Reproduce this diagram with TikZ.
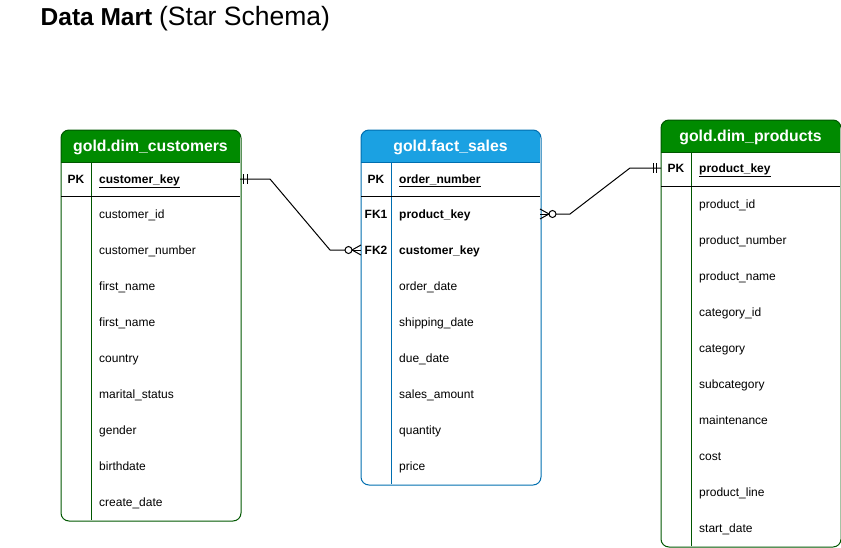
\documentclass[tikz,border=0pt]{standalone}
\usepackage{fontspec}
\setmainfont{Liberation Sans}
\usetikzlibrary{calc}
\definecolor{dmgreen}{HTML}{008A00}
\definecolor{dmgreenline}{HTML}{005700}
\definecolor{dmblue}{HTML}{1BA1E2}
\definecolor{dmblueline}{HTML}{006EAF}
\tikzset{
  tbl/.style={rounded corners=8pt, line width=1pt, minimum width=179pt, inner sep=0pt, anchor=north west},
  fld/.style={font=\fontsize{12}{14}\selectfont, anchor=base west, inner sep=0pt},
  kfld/.style={font=\fontsize{12}{14}\selectfont\bfseries, anchor=base west, inner sep=0pt},
  keylbl/.style={font=\fontsize{12}{14}\selectfont\bfseries, anchor=base, inner sep=0pt},
  hdr/.style={font=\fontsize{15.8}{18}\selectfont\bfseries, text=white, anchor=base, inner sep=0pt},
  rel/.style={line width=1pt, black},
}
\begin{document}
\begin{tikzpicture}[x=1pt,y=-1pt]
\useasboundingbox (0,0) rectangle (841,547);
% title
\node[anchor=base west, inner sep=0pt] (title) at (40.5,25)
  {\fontsize{24.5}{28}\selectfont\textbf{Data Mart} \fontsize{26.5}{30}\selectfont(Star Schema)};

% ---------- gold.dim_customers ----------
\node[tbl, minimum height=390pt] (cust) at (61,130) {};
\begin{scope}
  \clip[rounded corners=8pt] (cust.north west) rectangle (cust.south east);
  \fill[dmgreen] (61,130) rectangle (240,162);
  \fill[white] (61,162) rectangle (240,520);
\end{scope}
\draw[line width=1pt, dmgreenline, rounded corners=8pt] (cust.north west) rectangle (cust.south east);
\draw[line width=1pt, dmgreenline] (91,162) -- (91,520);
\draw[line width=1pt, dmgreenline] (61,162) -- (240,162);
\draw[line width=1pt, black] (61,196.5) -- (240,196.5);
\node[hdr] (cust-h) at (150.5,151.7) {gold.dim\_customers};
\node[keylbl] (cust-pkl) at (76,183.5) {PK};
\node[kfld] (cust-pk) at (99,183.5) {\underline{customer\_key}};
\foreach \t [count=\i] in {customer\_id, customer\_number, first\_name, first\_name, country, marital\_status, gender, birthdate, create\_date}
  \node[fld] (cust-\i) at (99,{218.5+36*(\i-1)}) {\t};

% ---------- gold.fact_sales ----------
\node[tbl, minimum height=354pt] (fact) at (361,130) {};
\begin{scope}
  \clip[rounded corners=8pt] (fact.north west) rectangle (fact.south east);
  \fill[dmblue] (361,130) rectangle (540,162);
  \fill[white] (361,162) rectangle (540,484);
\end{scope}
\draw[line width=1pt, dmblueline, rounded corners=8pt] (fact.north west) rectangle (fact.south east);
\draw[line width=1pt, dmblueline] (391,162) -- (391,484);
\draw[line width=1pt, dmblueline] (361,162) -- (540,162);
\draw[line width=1pt, black] (361,196.5) -- (540,196.5);
\node[hdr] (fact-h) at (450.5,151.7) {gold.fact\_sales};
\node[keylbl] (fact-pkl) at (376,183.5) {PK};
\node[kfld] (fact-pk) at (399,183.5) {\underline{order\_number}};
\node[keylbl] (fact-fk1l) at (376,218.5) {FK1};
\node[kfld] (fact-fk1) at (399,218.5) {product\_key};
\node[keylbl] (fact-fk2l) at (376,254.5) {FK2};
\node[kfld] (fact-fk2) at (399,254.5) {customer\_key};
\foreach \t [count=\i] in {order\_date, shipping\_date, due\_date, sales\_amount, quantity, price}
  \node[fld] (fact-\i) at (399,{290.5+36*(\i-1)}) {\t};

% ---------- gold.dim_products ----------
\node[tbl, minimum height=426pt] (prod) at (661,120) {};
\begin{scope}
  \clip[rounded corners=8pt] (prod.north west) rectangle (prod.south east);
  \fill[dmgreen] (661,120) rectangle (840,152);
  \fill[white] (661,152) rectangle (840,546);
\end{scope}
\draw[line width=1pt, dmgreenline, rounded corners=8pt] (prod.north west) rectangle (prod.south east);
\draw[line width=1pt, dmgreenline] (691,152) -- (691,546);
\draw[line width=1pt, dmgreenline] (661,152) -- (840,152);
\draw[line width=1pt, black] (661,186.5) -- (840,186.5);
\node[hdr] (prod-h) at (750.5,141.7) {gold.dim\_products};
\node[keylbl] (prod-pkl) at (676,172.5) {PK};
\node[kfld] (prod-pk) at (699,172.5) {\underline{product\_key}};
\foreach \t [count=\i] in {product\_id, product\_number, product\_name, category\_id, category, subcategory, maintenance, cost, product\_line, start\_date}
  \node[fld] (prod-\i) at (699,{208.5+36*(\i-1)}) {\t};

% ---------- relationships ----------
\coordinate (cpk) at (240,179);
\coordinate (ffk2) at (361,250);
\coordinate (ffk1) at (540,214);
\coordinate (ppk) at (661,168);

% customers (one) -- fact (zero or many)
\draw[rel] (cpk) -- ++(30,0) -- ($(ffk2)+(-31,0)$) -- ($(ffk2)+(-16,0)$);
\draw[rel] ($(cpk)+(3,-5)$) -- ++(0,10);
\draw[rel] ($(cpk)+(7,-5)$) -- ++(0,10);
\draw[rel, fill=white] ($(ffk2)+(-12.5,0)$) circle (3.5);
\draw[rel] ($(ffk2)+(-9,0)$) -- (ffk2);
\draw[rel] ($(ffk2)+(-9,0)$) -- ($(ffk2)+(0,-5)$);
\draw[rel] ($(ffk2)+(-9,0)$) -- ($(ffk2)+(0,5)$);

% fact (zero or many) -- products (one)
\draw[rel] ($(ffk1)+(16,0)$) -- ($(ffk1)+(30,0)$) -- ($(ppk)+(-31,0)$) -- (ppk);
\draw[rel, fill=white] ($(ffk1)+(12.5,0)$) circle (3.5);
\draw[rel] ($(ffk1)+(9,0)$) -- (ffk1);
\draw[rel] ($(ffk1)+(9,0)$) -- ($(ffk1)+(0,-5)$);
\draw[rel] ($(ffk1)+(9,0)$) -- ($(ffk1)+(0,5)$);
\draw[rel] ($(ppk)+(-8,-5)$) -- ++(0,10);
\draw[rel] ($(ppk)+(-4.5,-5)$) -- ++(0,10);
\end{tikzpicture}
\end{document}
